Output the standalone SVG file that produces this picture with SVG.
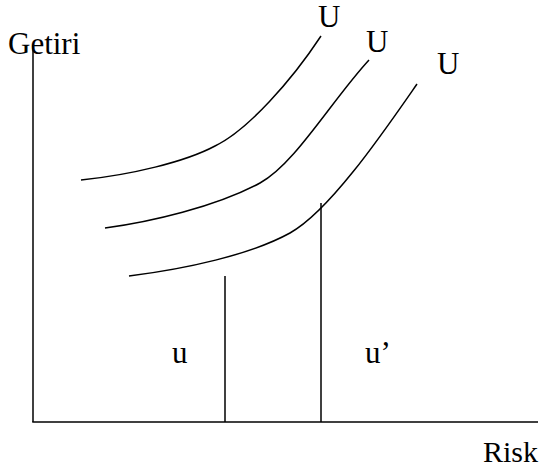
<svg xmlns="http://www.w3.org/2000/svg" width="544" height="467" viewBox="0 0 544 467">
<style>
text{font-family:"Liberation Serif","Times New Roman",serif;font-size:31px;fill:#000}
.ln{fill:none;stroke:#000;stroke-width:1.5}
</style>
<rect width="544" height="467" fill="#fff"/>
<g id="axes">
<line class="ln" x1="33" y1="45" x2="33" y2="422"/>
<line class="ln" x1="32.25" y1="422" x2="538" y2="422"/>
</g>
<g id="connectors">
<path class="ln" d="M81,180 C130,175 185,162 215,146 C248,130 292,80 321,36"/>
<path class="ln" d="M105,228 C150,222 215,207 260,183 C295,164 332,100 369,60"/>
<path class="ln" d="M129,276 C185,269 250,255 290,233 C330,211 385,130 417,84"/>
<line class="ln" x1="225" y1="276" x2="225" y2="422"/>
<line class="ln" x1="321" y1="203" x2="321" y2="422"/>
</g>
<g id="labels">
<text x="8" y="54">Getiri</text>
<text x="318" y="27">U</text>
<text x="366" y="52">U</text>
<text x="437" y="74">U</text>
<text x="172" y="363">u</text>
<text x="365" y="363">u’</text>
<text x="483" y="462" style="font-size:30px">Risk</text>
</g>
</svg>
